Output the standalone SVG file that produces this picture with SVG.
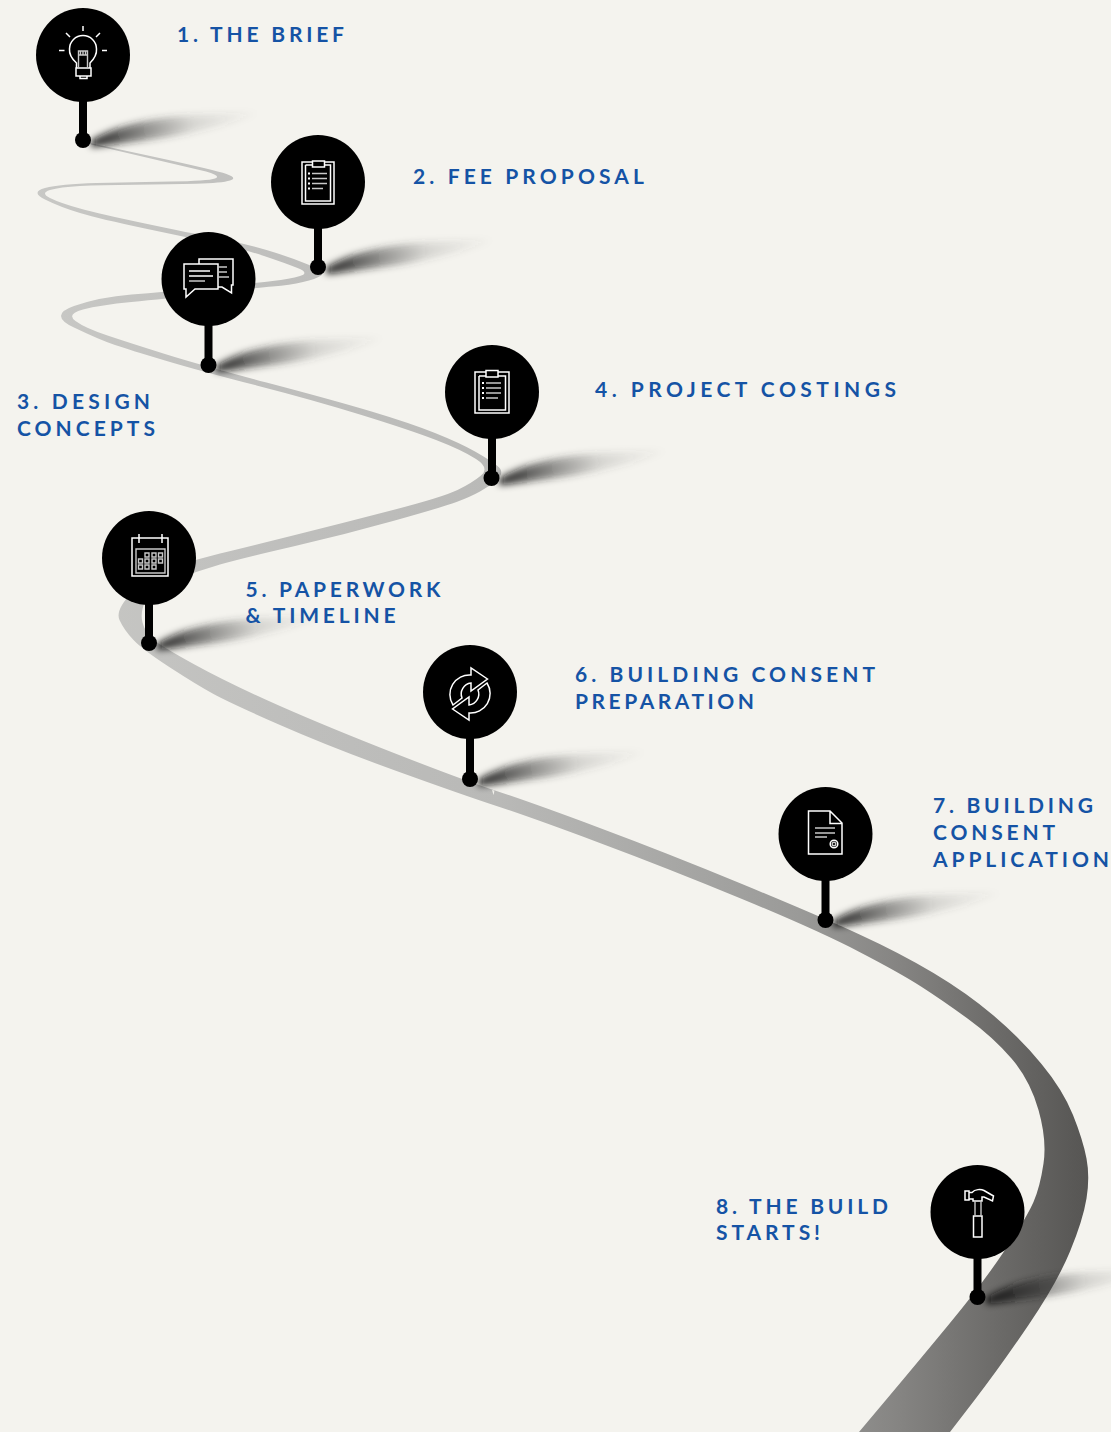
<svg xmlns="http://www.w3.org/2000/svg" width="1111" height="1432" viewBox="0 0 1111 1432">
<style>
.pin{fill:#000}
.stick{stroke:#000;stroke-width:8;fill:none}
.ic{fill:none;stroke:#fff;stroke-width:1.5}
.ig{fill:none;stroke:#c8c8c8;stroke-width:1.4}
.lb{font-family:"Lato","Liberation Sans",sans-serif;font-weight:700;font-size:21px;fill:#1553a5}
</style>
<defs>
<linearGradient id="roadG" gradientUnits="userSpaceOnUse" x1="0" y1="0" x2="1111" y2="0">
<stop offset="0" stop-color="#c9c9c6"/>
<stop offset=".25" stop-color="#bfbfbd"/>
<stop offset=".45" stop-color="#b9b9b7"/>
<stop offset=".72" stop-color="#9a9a98"/>
<stop offset=".81" stop-color="#858482"/>
<stop offset=".9" stop-color="#6b6a68"/>
<stop offset=".98" stop-color="#565553"/>
</linearGradient>
<linearGradient id="shG" gradientUnits="userSpaceOnUse" x1="0" y1="0" x2="178" y2="-25">
<stop offset="0" stop-color="#000" stop-opacity=".95"/>
<stop offset=".3" stop-color="#222" stop-opacity=".55"/>
<stop offset=".62" stop-color="#444" stop-opacity=".16"/>
<stop offset="1" stop-color="#555" stop-opacity="0"/>
</linearGradient>
<filter id="bl" x="-20%" y="-60%" width="140%" height="220%"><feGaussianBlur stdDeviation="3.8"/></filter>
<path id="shadow" d="M8 1C25 -11 60 -22 115 -25L180 -28C140 -14 100 -5 70 -1C45 2 25 6 8 7Z" fill="url(#shG)" filter="url(#bl)"/>
</defs>
<rect width="1111" height="1432" fill="#f4f3ee"/>
<g id="connectors">
<path id="road" fill="url(#roadG)" d="M90 143L152.5 156.5Q215 170 226.5 174Q238 178 230 180.5Q222 183 196 183.8Q170 184.5 135 184.8Q100 185 80 186Q60 187 50 190Q40 193 50 198Q60 203 80 208.5Q100 214 145 223.5Q190 233 216.5 238Q243 243 266.5 250Q290 257 308 264.5Q326 272 321 275.5Q316 279 303 282Q290 285 272.5 286.5Q255 288 209 293.5Q163 299 131.5 302Q100 305 83 309.5Q66 314 75.5 321Q85 328 107.5 335.5Q130 343 165 354Q200 365 266.5 382.5Q333 400 371.5 411.5Q410 423 435 433Q460 443 475 451.5Q490 460 497.5 466Q505 472 497.5 479Q490 486 480 491.5Q470 497 456.5 502Q443 507 393 521Q343 535 293 546.5Q243 558 220 564.5Q197 571 173.5 580.5Q150 590 145 601.5Q140 613 142.5 622.5Q145 632 152 638.5Q159 645 194.5 664.5Q230 684 280 706Q330 728 396.5 754Q463 780 496.5 791Q530 802 598.5 827.5Q667 853 742 884Q817 915 858.5 934Q900 953 933.5 973Q967 993 993.5 1015.5Q1020 1038 1041.5 1064Q1063 1090 1073 1115Q1083 1140 1086.5 1158.5Q1090 1177 1086.5 1198.5Q1083 1220 1070 1251.5Q1057 1283 1028.5 1325Q1000 1367 975 1399.5L950 1432L859 1432L888 1397.5Q917 1363 950 1323Q983 1283 1005 1250Q1027 1217 1033.5 1202Q1040 1187 1043.5 1163.5Q1047 1140 1038.5 1110Q1030 1080 1011.5 1058.5Q993 1037 967.5 1018.5Q942 1000 921 986.5Q900 973 858.5 951.5Q817 930 742 899Q667 868 598.5 842.5Q530 817 496.5 806Q463 795 396.5 771Q330 747 280 725Q230 703 213.5 694Q197 685 170 667.5Q143 650 133.5 640Q124 630 119.5 620Q115 610 132 592.5Q150 575 173.5 567Q197 559 220 553.5Q243 548 293 535.5Q343 523 393 510Q443 497 457.5 490Q472 483 481 475.5Q490 468 476 459Q462 450 436 440Q410 430 361.5 415Q313 400 256.5 385.5Q200 371 165 360.5Q130 350 115 345Q100 340 74 327.5Q48 315 74 306Q100 297 131.5 294.5Q163 292 209 287.5Q255 283 272.5 281Q290 279 300 276Q310 273 297.5 268Q285 263 264 256Q243 249 216.5 243.5Q190 238 145 228.5Q100 219 80 213Q60 207 45 199.5Q30 192 45 188Q60 184 96.5 183Q133 182 170.5 181.5Q208 181 215 178.5Q222 176 206 171.500L91 144.500Z"/>
<path fill="#f4f3ee" d="M492 790L494.500 790.500L493.500 795Z"/>
<use href="#shadow" x="83" y="140"/>
<use href="#shadow" x="318" y="267"/>
<use href="#shadow" x="208" y="365"/>
<use href="#shadow" x="491" y="478"/>
<use href="#shadow" x="149" y="643"/>
<use href="#shadow" x="470" y="779"/>
<use href="#shadow" x="825" y="920"/>
<use href="#shadow" x="978" y="1297"/>
</g>
<g id="node1">
<path class="stick" d="M83 95V140"/><circle class="pin" cx="83" cy="140" r="8"/><circle class="pin" cx="83" cy="55" r="47"/>
<path class="ic" d="M76.500 68V63C72 59 69 55 69.500 49A13.500 13.500 0 1 1 96.500 49C97 55 94 59 90 63V68ZM76 68H91V76H76ZM80 76V78.500H87V76M83 26V31M59 50.500H64.500M102 50.500H107M66 33L70 37M100 33L96 37"/>
<path class="ig" d="M78.500 68V51H87.500V68M78.500 55H87.500M80.500 51V55M83 51V55M85.500 51V55"/>
<text class="lb" x="177" y="42" textLength="167" lengthAdjust="spacing">1. THE BRIEF</text>
</g>
<g id="node2">
<path class="stick" d="M318 222V267"/><circle class="pin" cx="318" cy="267" r="8"/><circle class="pin" cx="318" cy="182" r="47"/>
<path class="ic" d="M312.500 162H302V204H334V162H324.500M305.500 165H312.500M324.500 165H330.500V201H305.500V165M312.500 161H324.500V167H312.500Z"/>
<path class="ig" d="M312 173.500H327M312 178.500H327M312 183.500H327M312 188.500H323"/>
<path fill="#fff" d="M308 172.500h2v2h-2zM308 177.500h2v2h-2zM308 182.500h2v2h-2zM308 187.500h2v2h-2z"/>
<text class="lb" x="413" y="184" textLength="231" lengthAdjust="spacing">2. FEE PROPOSAL</text>
</g>
<g id="node3">
<path class="stick" d="M208.500 319V365"/><circle class="pin" cx="208.500" cy="365" r="8"/><circle class="pin" cx="208.500" cy="279" r="47"/>
<path class="ic" d="M184 264H218V289H195L186 297V289H184ZM199 264V259H233V285H231.500V293L222 287H218M189 271H210M189 276H213"/>
<path class="ig" d="M189 281H205M218 267H227M218 272H227M218 277H229"/>
<text class="lb" x="17" y="409" textLength="133" lengthAdjust="spacing">3. DESIGN</text>
<text class="lb" x="17" y="436" textLength="138" lengthAdjust="spacing">CONCEPTS</text>
</g>
<g id="node4">
<path class="stick" d="M492 432V478"/><circle class="pin" cx="491.500" cy="478" r="8"/><circle class="pin" cx="492" cy="392" r="47"/>
<path class="ic" d="M486 372H475V413H509V372H498M479 376H486M498 376H505.500V410H479V376M486 370.500H498V377H486Z"/>
<path class="ig" d="M486 383H501M486 388H501M486 393H501M486 398H498"/>
<path fill="#fff" d="M482 382h2v2h-2zM482 387h2v2h-2zM482 392h2v2h-2zM482 397h2v2h-2z"/>
<text class="lb" x="595" y="397" textLength="301" lengthAdjust="spacing">4. PROJECT COSTINGS</text>
</g>
<g id="node5">
<path class="stick" d="M149 598V643"/><circle class="pin" cx="149" cy="643" r="8"/><circle class="pin" cx="149" cy="558" r="47"/>
<path class="ic" d="M132 538H168V576H132ZM139 534V543M162 534V543"/>
<path class="ig" d="M136 549H165V573H136ZM145 553h4v4h-4zM152 553h4v4h-4zM158.500 553h4v4h-4zM138.500 559h4v4h-4zM145 559h4v4h-4zM152 559h4v4h-4zM158.500 559h4v4h-4zM138.500 565h4v4h-4zM145 565h4v4h-4zM152 565h4v4h-4z"/>
<text class="lb" x="245.500" y="597" textLength="195" lengthAdjust="spacing">5. PAPERWORK</text>
<text class="lb" x="245.500" y="623" textLength="150" lengthAdjust="spacing">&amp; TIMELINE</text>
</g>
<g id="node6">
<path class="stick" d="M470 732V779"/><circle class="pin" cx="470" cy="779" r="8"/><circle class="pin" cx="470" cy="692" r="47"/>
<path class="ic" d="M487.500 679L471 668V675A19.500 19.500 0 0 0 453 705L462 698A11 11 0 0 1 471 683V691Z"/>
<path class="ic" d="M487.500 679L471 668V675A19.500 19.500 0 0 0 453 705L462 698A11 11 0 0 1 471 683V691Z" transform="rotate(180 470 694)"/>
<text class="lb" x="575" y="682" textLength="300" lengthAdjust="spacing">6. BUILDING CONSENT</text>
<text class="lb" x="575" y="709" textLength="179" lengthAdjust="spacing">PREPARATION</text>
</g>
<g id="node7">
<path class="stick" d="M825.500 874V920"/><circle class="pin" cx="825.500" cy="920" r="8"/><circle class="pin" cx="825.500" cy="834" r="47"/>
<path class="ic" d="M830 811H808.500V854H842V823ZM830 811V823.500H842"/>
<path class="ig" d="M815 828H835M815 833H835M815 837H827"/>
<circle class="ic" cx="834" cy="844" r="3.800"/><circle class="ig" cx="834" cy="844" r="1.800"/>
<text class="lb" x="933" y="813" textLength="160" lengthAdjust="spacing">7. BUILDING</text>
<text class="lb" x="933" y="840" textLength="122" lengthAdjust="spacing">CONSENT</text>
<text class="lb" x="933" y="867" textLength="176" lengthAdjust="spacing">APPLICATION</text>
</g>
<g id="node8">
<path class="stick" d="M977.500 1252V1297"/><circle class="pin" cx="977.500" cy="1297" r="8"/><circle class="pin" cx="977.500" cy="1212" r="47"/>
<path class="ic" d="M973.500 1216H982V1237H973.500ZM965 1191H969V1200H965ZM969 1192.500H972C975 1189 981 1189 984 1190.500L993.500 1196L992.500 1201L984 1197H982V1201H973V1199H969"/>
<path class="ig" d="M975 1201V1216M981 1201V1216"/>
<text class="lb" x="716" y="1214" textLength="172" lengthAdjust="spacing">8. THE BUILD</text>
<text class="lb" x="716" y="1240" textLength="104" lengthAdjust="spacing">STARTS!</text>
</g>
</svg>
